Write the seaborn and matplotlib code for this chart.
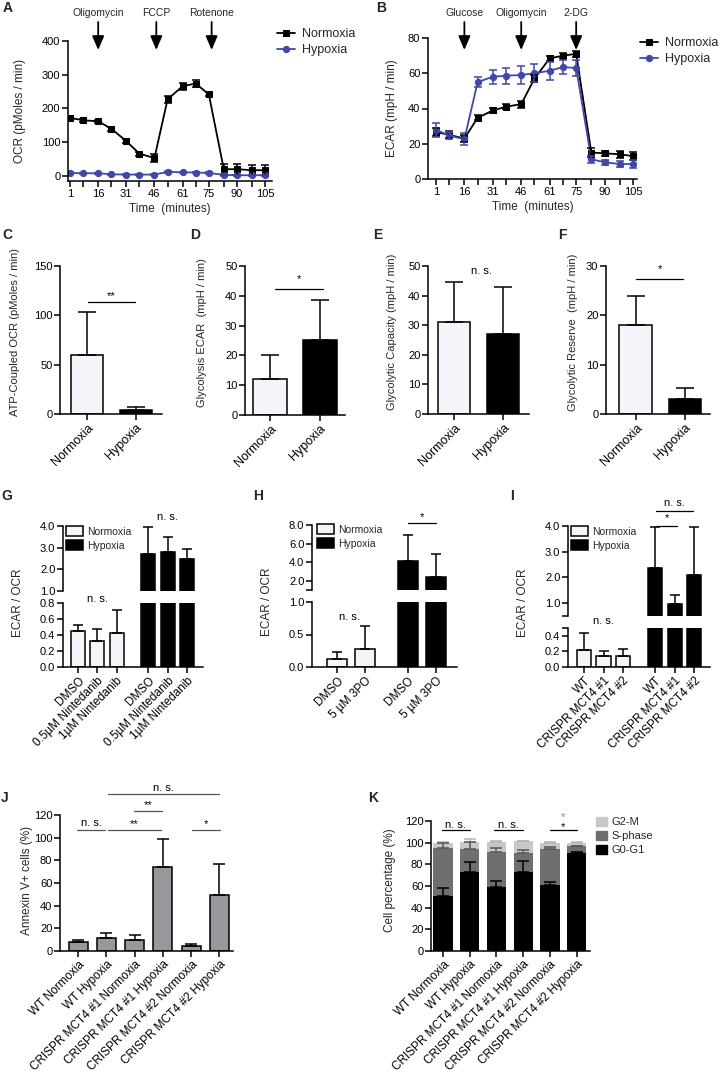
import numpy as np
import pandas as pd
import matplotlib
matplotlib.use('Agg')
import matplotlib.pyplot as plt
import matplotlib.patches as mpatches
import seaborn as sns

# ---------------- data ----------------
time_min = [1, 8, 16, 23, 31, 38, 46, 53, 61, 68, 75, 83, 90, 98, 105]
time_labels = [1, 16, 31, 46, 61, 75, 90, 105]

ocr_norm = [172, 165, 162, 140, 103, 66, 53, 227, 266, 274, 242, 20, 20, 17, 17]
ocr_norm_err = [5, 5, 5, 6, 6, 6, 12, 10, 10, 10, 6, 16, 16, 15, 15]
ocr_hyp = [9, 8, 8, 5, 4, 4, 4, 12, 11, 10, 9, 3, 2, 2, 2]
ocr_hyp_err = [2, 2, 2, 2, 2, 2, 2, 2, 2, 2, 2, 2, 2, 2, 2]
ocr_arrows = [16, 47, 76.5]
ocr_arrow_labels = ['Oligomycin', 'FCCP', 'Rotenone']

ecar_norm = [26.7, 25, 23, 34.7, 38.9, 41, 42.5, 57, 68.4, 70, 71, 15, 14.6, 14, 13]
ecar_norm_err = [2.5, 2, 2, 1.5, 1.5, 1.5, 2, 2, 1.5, 1.5, 1.5, 2.5, 1.5, 2, 2.5]
ecar_hyp = [27.9, 24.6, 22.6, 55, 58, 58.6, 59, 60, 61.4, 63.5, 63, 11.2, 9.5, 8.5, 8.5]
ecar_hyp_err = [4, 2, 3.5, 3, 4, 4.5, 5, 5, 5, 4, 4.5, 2, 1.5, 1.5, 2]
ecar_arrows = [16, 46, 75]
ecar_arrow_labels = ['Glucose', 'Oligomycin', '2-DG']

conditions = ['Normoxia', 'Hypoxia']
atp_ocr = [60, 4]
atp_ocr_err = [43, 3]
glyco_ecar = [12, 25]
glyco_ecar_err = [8.3, 13.7]
glyco_cap = [31, 27]
glyco_cap_err = [13.5, 16]
glyco_res = [18, 3]
glyco_res_err = [6, 2.2]

g_labels = ['DMSO', '0.5µM Nintedanib', '1µM Nintedanib']
g_norm = [0.45, 0.32, 0.43]
g_norm_err = [0.07, 0.15, 0.28]
g_hyp = [2.70, 2.78, 2.46]
g_hyp_err = [1.25, 0.72, 0.47]

h_labels = ['DMSO', '5 µM 3PO']
h_norm = [0.13, 0.28]
h_norm_err = [0.10, 0.35]
h_hyp = [4.1, 2.35]
h_hyp_err = [2.8, 2.5]

i_labels = ['WT', 'CRISPR MCT4 #1', 'CRISPR MCT4 #2']
i_norm = [0.22, 0.145, 0.145]
i_norm_err = [0.21, 0.055, 0.085]
i_hyp = [2.35, 0.95, 2.1]
i_hyp_err = [1.6, 0.35, 1.85]

jk_labels = ['WT Normoxia', 'WT Hypoxia', 'CRISPR MCT4 #1 Normoxia',
             'CRISPR MCT4 #1 Hypoxia', 'CRISPR MCT4 #2 Normoxia', 'CRISPR MCT4 #2 Hypoxia']
annexin = [7.9, 11.5, 9.4, 74.2, 4.1, 49.1]
annexin_err = [1.5, 4.4, 5.0, 24.2, 1.8, 27.3]

g0g1 = [50.7, 72.8, 59, 72.5, 61, 90.5]
g0g1_err = [7, 9, 5.5, 10.5, 2.5, 1]
sphase = [44.2, 21.2, 32, 18, 33, 6]
sphase_err = [4.6, 6.5, 4, 2.5, 2, 0.8]
g2m = [5.1, 6.5, 10, 11, 6, 3.5]
g2m_err = [0.5, 2.5, 0.5, 0.5, 0.5, 0.5]

# ---------------- style ----------------
sns.set_theme(style='ticks')
plt.rcParams['font.family'] = ['Liberation Sans', 'DejaVu Sans']
plt.rcParams['axes.linewidth'] = 1.1

BLUE = '#3f48a8'
LIGHT = '#f4f4fa'
JGRAY = '#98989c'

W, H = 720, 1076
fig = plt.figure(figsize=(7.2, 10.76), dpi=100)


def add_ax(l, t, r, b):
    return fig.add_axes([l / W, 1 - b / H, (r - l) / W, (b - t) / H])


def fx(px):
    return px / W


def fy(py):
    return 1 - py / H


def style(ax, bottom=True, fs=8):
    sns.despine(ax=ax, bottom=not bottom)
    ax.set_facecolor('none')
    ax.tick_params(which='both', direction='out', width=1.1, length=4, color='black',
                   labelsize=fs, pad=1.5, labelcolor='black')
    for s in ['left', 'bottom']:
        ax.spines[s].set_color('black')
        ax.spines[s].set_linewidth(1.1)
    ax.grid(False)
    ax.set_xlabel('')
    ax.set_ylabel('')
    if not bottom:
        ax.set_xticks([])


def draw_bars(ax, pos, vals, colors, width, edge=True):
    df = pd.DataFrame({'pos': pos, 'val': vals, 'grp': ['b%d' % i for i in range(len(pos))]})
    pal = dict(zip(df['grp'], colors))
    sns.barplot(data=df, x='pos', y='val', hue='grp', palette=pal, native_scale=True,
                dodge=False, width=width, saturation=1, errorbar=None, legend=False,
                edgecolor='black' if edge else 'none', linewidth=1.1 if edge else 0, ax=ax)


def draw_err(ax, pos, vals, errs, capsize, color='black'):
    ax.errorbar(pos, vals, yerr=[np.zeros(len(vals)), errs], fmt='none', ecolor=color,
                elinewidth=1.1, capsize=capsize, capthick=1.1, zorder=4)


def bracket(ax, x1, x2, y, text, ty, color='black', tcolor='black', fs=8, lw=0.9):
    if x1 is not None:
        ax.plot([x1, x2], [y, y], color=color, lw=lw, clip_on=False, zorder=5)
    ax.text((x1 + x2) / 2 if x1 is not None else x2, ty, text, ha='center', va='center',
            fontsize=fs, color=tcolor, clip_on=False)


def ylab(px, py, text, fs=8):
    fig.text(fx(px), fy(py), text, rotation=90, ha='center', va='center', fontsize=fs)


def letter(px, py, t):
    fig.text(fx(px), fy(py), t, ha='center', va='center', fontsize=10, fontweight='bold')


# ---------------- A / B ----------------
def time_panel(box, xlim, ylim, yticks, n, ne, hy, he, arrows, arrow_labels, ylabel, ylabel_px,
               leg_px):
    ax = add_ax(*box)
    sns.lineplot(x=time_min, y=n, ax=ax, color='black', marker='s', markersize=5,
                 markeredgecolor='black', lw=1.3, label='Normoxia', errorbar=None)
    sns.lineplot(x=time_min, y=hy, ax=ax, color=BLUE, marker='o', markersize=4.5,
                 markeredgecolor=BLUE, lw=1.3, label='Hypoxia', errorbar=None)
    ax.errorbar(time_min, n, yerr=ne, fmt='none', ecolor='black', elinewidth=1.1,
                capsize=3, capthick=1.1)
    ax.errorbar(time_min, hy, yerr=he, fmt='none', ecolor=BLUE, elinewidth=1.1,
                capsize=3, capthick=1.1)
    style(ax)
    ax.set_xlim(*xlim)
    ax.set_ylim(*ylim)
    ax.set_yticks(yticks)
    ax.set_xticks(time_min)
    ax.set_xticklabels([str(t) if t in time_labels else '' for t in time_min])
    ax.set_xlabel('Time  (minutes)', fontsize=8.5, labelpad=3)
    ylab(ylabel_px, (box[1] + box[3]) / 2, ylabel, fs=8.5)
    hgt = box[3] - box[1]
    tr = ax.get_xaxis_transform()
    for x, lab in zip(arrows, arrow_labels):
        ax.annotate('', xy=(x, (box[3] - 50) / hgt), xycoords=tr,
                    xytext=(x, (box[3] - 22) / hgt), textcoords=tr,
                    arrowprops=dict(arrowstyle='-|>,head_length=0.7,head_width=0.3',
                                    color='black', lw=1.3, mutation_scale=12,
                                    shrinkA=0, shrinkB=0),
                    annotation_clip=False)
        ax.text(x, (box[3] - 13) / hgt, lab, transform=tr, ha='center', va='center',
                fontsize=7.5)
    ax.legend(loc='upper left', bbox_to_anchor=(fx(leg_px[0]), fy(leg_px[1])),
              bbox_transform=fig.transFigure, frameon=False, fontsize=9, handlelength=1.4,
              handletextpad=0.6, labelspacing=0.35, borderpad=0, borderaxespad=0)
    return ax


time_panel((68, 41, 272, 181), (-0.1, 108.7), (-15, 400), [0, 100, 200, 300, 400],
           ocr_norm, ocr_norm_err, ocr_hyp, ocr_hyp_err, ocr_arrows, ocr_arrow_labels,
           'OCR (pMoles / min)', 20, (277, 28))
time_panel((428, 38, 637, 179), (-3.2, 107.1), (0, 80), [0, 20, 40, 60, 80],
           ecar_norm, ecar_norm_err, ecar_hyp, ecar_hyp_err, ecar_arrows, ecar_arrow_labels,
           'ECAR (mpH / min)', 392, (640, 37))
letter(8, 8, 'A')
letter(381, 8, 'B')


# ---------------- C - F ----------------
def two_bar(box, xlim, ylim, yticks, vals, errs, ylabel, ylabel_px):
    ax = add_ax(*box)
    draw_bars(ax, [0, 1], vals, [LIGHT, 'black'], 0.67)
    draw_err(ax, [0, 1], vals, errs, 6.5)
    style(ax)
    ax.set_xlim(*xlim)
    ax.set_ylim(*ylim)
    ax.set_yticks(yticks)
    ax.set_xticks([0, 1])
    ax.set_xticklabels(conditions, rotation=45, ha='right', rotation_mode='anchor', fontsize=9)
    ylab(ylabel_px, (box[1] + box[3]) / 2 - 8, ylabel)
    return ax


axC = two_bar((60, 266, 162, 414), (-0.55, 1.53), (0, 150), [0, 50, 100, 150],
              atp_ocr, atp_ocr_err, 'ATP-Coupled OCR (pMoles / min)', 15)
bracket(axC, 0.02, 0.98, 114, '**', 120)
axD = two_bar((245, 266, 345, 415), (-0.5, 1.5), (0, 50), [0, 10, 20, 30, 40, 50],
              glyco_ecar, glyco_ecar_err, 'Glycolysis ECAR  (mpH / min)', 202)
bracket(axD, 0.1, 1.05, 42.3, '*', 45.5)
axE = two_bar((428, 266, 529, 414), (-0.53, 1.53), (0, 50), [0, 10, 20, 30, 40, 50],
              glyco_cap, glyco_cap_err, 'Glycolytic Capacity (mpH / min)', 392)
bracket(axE, None, 0.55, 0, 'n. s.', 48.3)
axF = two_bar((606, 266, 710, 414), (-0.61, 1.51), (0, 30), [0, 10, 20, 30],
              glyco_res, glyco_res_err, 'Glycolytic Reserve  (mpH / min)', 573)
bracket(axF, 0.0, 0.96, 27.4, '*', 29.4)
letter(7, 235, 'C')
letter(195, 235, 'D')
letter(378, 235, 'E')
letter(562, 235, 'F')


# ---------------- G - I (broken axes) ----------------
def broken(xl, xr, up, low, xlim, pos, width, norm, norm_err, hyp, hyp_err, labels,
           up_ylim, up_ticks, up_minor, low_ylim, low_ticks, low_minor, leg_px):
    axu = add_ax(xl, up[0], xr, up[1])
    axl = add_ax(xl, low[0], xr, low[1])
    vals = list(norm) + list(hyp)
    cols = [LIGHT] * len(norm) + ['black'] * len(hyp)
    for ax in (axu, axl):
        draw_bars(ax, pos, vals, cols, width)
        ax.set_xlim(*xlim)
    draw_err(axl, pos[:len(norm)], norm, norm_err, 3.6)
    draw_err(axu, pos[len(norm):], hyp, hyp_err, 3.6)
    style(axu, bottom=False)
    style(axl)
    axu.set_ylim(*up_ylim)
    axu.set_yticks(up_ticks)
    axu.set_yticklabels(['%.1f' % t for t in up_ticks])
    if up_minor is not None:
        axu.set_yticks([up_minor], minor=True)
    axl.set_ylim(*low_ylim)
    axl.set_yticks(low_ticks)
    axl.set_yticklabels(['%.1f' % t for t in low_ticks])
    if low_minor is not None:
        axl.set_yticks([low_minor], minor=True)
    axl.set_xticks(pos)
    axl.set_xticklabels(labels + labels, rotation=45, ha='right', rotation_mode='anchor',
                        fontsize=8.5)
    handles = [mpatches.Patch(facecolor=LIGHT, edgecolor='black', lw=1.1),
               mpatches.Patch(facecolor='black', edgecolor='black', lw=1.1)]
    axu.legend(handles, conditions, loc='upper left',
               bbox_to_anchor=(fx(leg_px[0]), fy(leg_px[1])), bbox_transform=fig.transFigure,
               frameon=False, fontsize=7.5, handlelength=1.6, handleheight=1.1,
               handletextpad=0.4, labelspacing=0.35, borderpad=0, borderaxespad=0)
    ylab(xl - 45, (up[0] + low[1]) / 2 + 6, 'ECAR / OCR', fs=8.5)
    return axu, axl


gpos = [0, 1, 2, 3.65, 4.65, 5.65]
gu, gl = broken(63, 203, (526, 591), (603, 667), (-0.78, 6.48), gpos, 0.72,
                g_norm, g_norm_err, g_hyp, g_hyp_err, g_labels,
                (1.0, 4.0), [1, 2, 3, 4], None, (0, 0.8), [0, 0.2, 0.4, 0.6, 0.8], None,
                (66, 526))
bracket(gu, None, 4.65, 0, 'n. s.', 4.42)
bracket(gl, None, 1, 0, 'n. s.', 0.85)

hpos = [0, 1, 2.54, 3.54]
hu, hl = broken(312, 457, (525, 590), (602, 667), (-0.9, 4.3), hpos, 0.7,
                h_norm, h_norm_err, h_hyp, h_hyp_err, h_labels,
                (1.0, 8.0), [2, 4, 6, 8], 1.0, (0, 1.0), [0, 0.5, 1.0], None,
                (317, 524))
bracket(hu, 2.54, 3.54, 8.2, '*', 8.85)
bracket(hl, None, 0.45, 0, 'n. s.', 0.77)

ipos = [0, 1, 2, 3.65, 4.65, 5.65]
iu, il = broken(568, 710, (526, 616), (628, 667), (-0.82, 6.46), ipos, 0.72,
                i_norm, i_norm_err, i_hyp, i_hyp_err, i_labels,
                (0.5, 4.0), [1, 2, 3, 4], 0.5, (0, 0.5), [0, 0.2, 0.4], 0.5,
                (571, 526))
bracket(iu, 3.69, 4.77, 4.0, '*', 4.3)
bracket(iu, 3.69, 5.59, 4.58, 'n. s.', 4.9)
bracket(il, None, 1, 0, 'n. s.', 0.59)
letter(7, 496, 'G')
letter(258, 496, 'H')
letter(512, 496, 'I')

# ---------------- J ----------------
jpos = list(range(6))
axJ = add_ax(60, 815, 233, 951)
draw_bars(axJ, jpos, annexin, [JGRAY] * 6, 0.67)
draw_err(axJ, jpos, annexin, annexin_err, 4.5)
style(axJ)
axJ.set_xlim(-0.64, 5.48)
axJ.set_ylim(0, 120)
axJ.set_yticks([0, 20, 40, 60, 80, 100, 120])
axJ.set_xticks(jpos)
axJ.set_xticklabels(jk_labels, rotation=45, ha='right', rotation_mode='anchor', fontsize=8.5)
ylab(27, 880, 'Annexin V+ cells (%)', fs=8.5)
bcol = '#555555'
bracket(axJ, -0.03, 0.95, 106.6, 'n. s.', 112.8, color=bcol)
bracket(axJ, 1.06, 2.93, 106.6, '**', 112.0, color=bcol)
bracket(axJ, 1.98, 2.97, 123.3, '**', 128.7, color=bcol)
bracket(axJ, 1.06, 4.98, 138.3, 'n. s.', 143.6, color=bcol)
bracket(axJ, 4.03, 5.02, 106.6, '*', 112.0, color=bcol)
letter(5, 798, 'J')

# ---------------- K ----------------
kpos = list(range(6))
s_top = [a + b for a, b in zip(g0g1, sphase)]
m_top = [a + b for a, b in zip(s_top, g2m)]
axK = add_ax(431, 821, 590, 951)
draw_bars(axK, kpos, m_top, ['#c8c8c8'] * 6, 0.72, edge=False)
draw_bars(axK, kpos, s_top, ['#6f6f6f'] * 6, 0.72, edge=False)
draw_bars(axK, kpos, g0g1, ['black'] * 6, 0.72, edge=False)
draw_err(axK, kpos, m_top, g2m_err, 4.5, color='#b5b5b5')
draw_err(axK, kpos, s_top, sphase_err, 4.5, color='#555555')
draw_err(axK, kpos, g0g1, g0g1_err, 4.5, color='black')
style(axK)
axK.set_xlim(-0.45, 5.5)
axK.set_ylim(0, 120)
axK.set_yticks([0, 20, 40, 60, 80, 100, 120])
axK.set_xticks(kpos)
axK.set_xticklabels(jk_labels, rotation=45, ha='right', rotation_mode='anchor', fontsize=8.5)
ylab(390, 880, 'Cell percentage (%)', fs=8.5)
bracket(axK, -0.04, 1.0, 111.5, 'n. s.', 116.6)
bracket(axK, 1.9, 3.0, 111.5, 'n. s.', 116.6)
bracket(axK, 4.0, 5.0, 111.5, '*', 114.5)
bracket(axK, None, 4.5, 0, '*', 124.0, tcolor='#888888')
kh = [mpatches.Patch(color='#c8c8c8'), mpatches.Patch(color='#6f6f6f'),
      mpatches.Patch(color='black')]
axK.legend(kh, ['G2-M', 'S-phase', 'G0-G1'], loc='upper left',
           bbox_to_anchor=(fx(596), fy(817)), bbox_transform=fig.transFigure, frameon=False,
           fontsize=8, handlelength=1.0, handleheight=0.9, handletextpad=0.4,
           labelspacing=0.3, borderpad=0, borderaxespad=0)
letter(373, 798, 'K')

fig.savefig('out.png', dpi=100, facecolor='white')
